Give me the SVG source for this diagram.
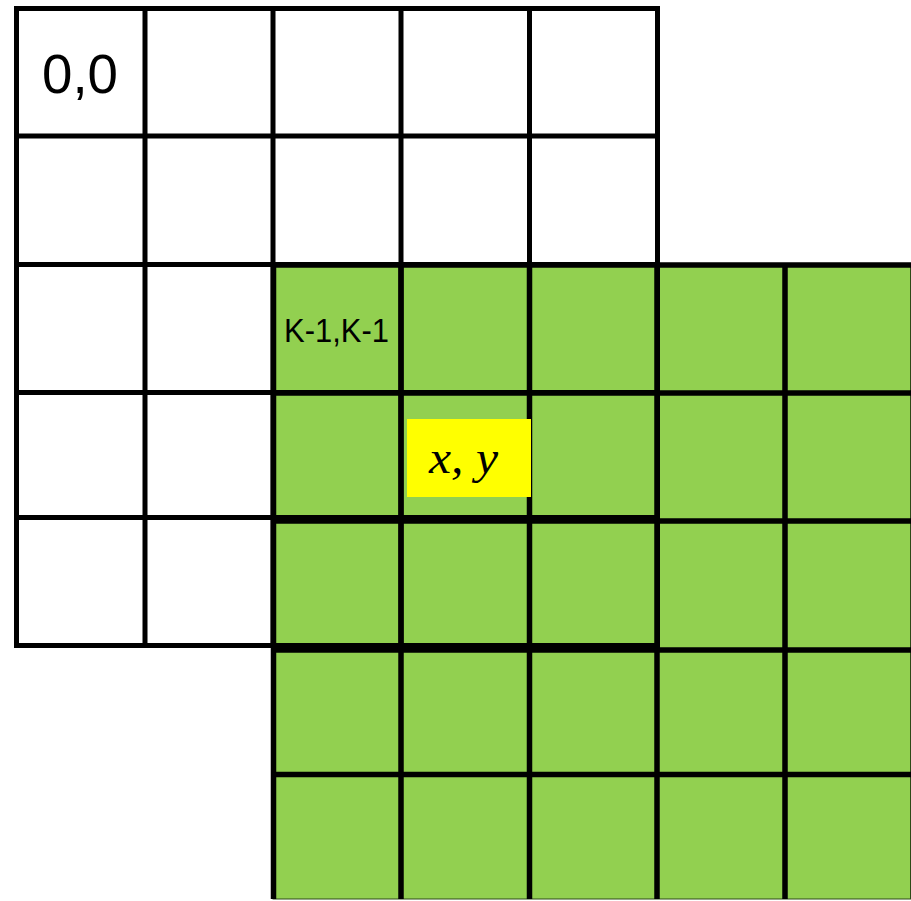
<svg xmlns="http://www.w3.org/2000/svg" width="911" height="901" viewBox="0 0 911 901">
  <style>
    .wl { stroke: #000; stroke-width: 5; fill: none; }
    .gl { stroke: #000; stroke-width: 5.5; fill: none; }
    .lbl { font-family: "Liberation Sans", Arial, sans-serif; fill: #000; }
    .math { font-family: "Liberation Serif", "Times New Roman", serif; font-style: italic; fill: #000; }
  </style>
  <rect x="0" y="0" width="911" height="901" fill="#fff"/>
  <g id="green-grid">
    <rect x="273" y="265" width="637.5" height="634" fill="#92D050" stroke="#2d4a18" stroke-width="1"/>
    <path class="gl" d="M273.5 265V899 M401 265V899 M529.5 265V899 M657 265V899 M785 265V899 M273 265H911 M273 393H911 M273 521H911 M273 650H911 M273 774.5H911"/>
  </g>
  <g id="white-grid">
    <path class="wl" d="M16.5 8.5V645.5 M145 8.5V645.5 M273 8.5V645.5 M401 8.5V645.5 M529.5 8.5V645.5 M657.5 8.5V645.5 M14 8.5H660 M14 136H660 M14 264.5H660 M14 392.5H660 M14 517.5H660 M14 645.5H660"/>
  </g>
  <g id="label-origin">
    <text class="lbl" x="42" y="93" font-size="55" textLength="76" lengthAdjust="spacingAndGlyphs">0,0</text>
  </g>
  <g id="label-k">
    <text class="lbl" x="284" y="342" font-size="33" textLength="105" lengthAdjust="spacingAndGlyphs">K-1,K-1</text>
  </g>
  <g id="label-xy">
    <rect x="407" y="419" width="124" height="78" fill="#FFFF00"/>
    <text class="math" x="429" y="473" font-size="46" textLength="69" lengthAdjust="spacingAndGlyphs">x, y</text>
  </g>
</svg>
